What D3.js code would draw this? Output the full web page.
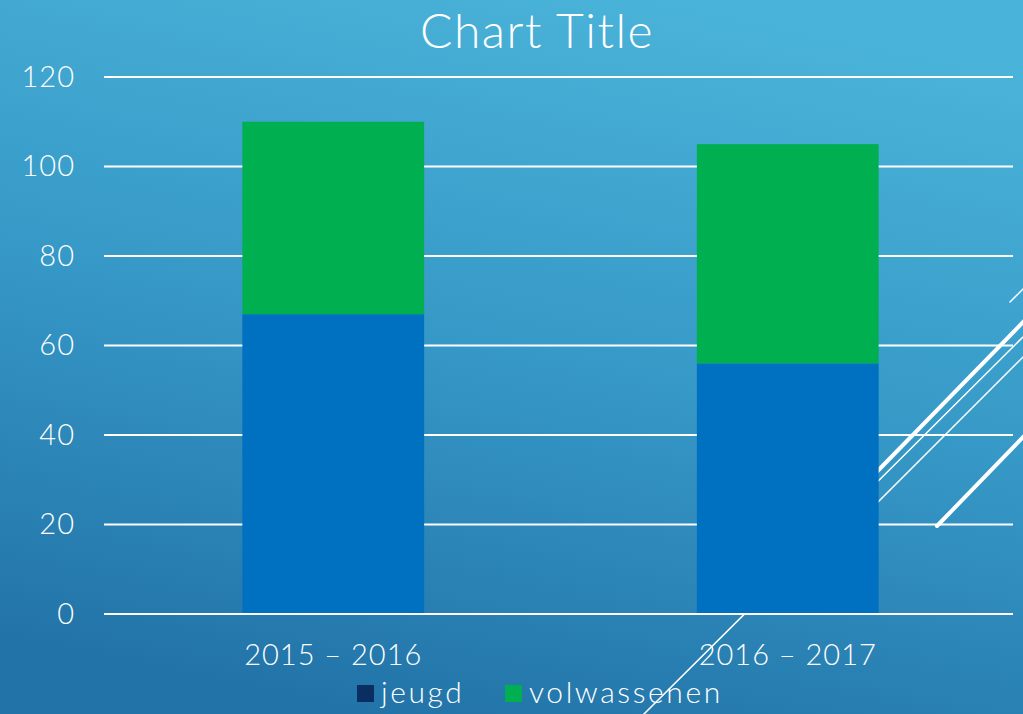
<!DOCTYPE html>
<html>
<head>
<meta charset="utf-8">
<script src="https://cdn.jsdelivr.net/npm/d3@7"></script>
<style>
  body { margin: 0; overflow: hidden; }
  svg { display: block; font-family: "Lato", "Noto Sans", sans-serif; font-weight: 300; }
</style>
</head>
<body>
<div id="chart"></div>
<script>
const categories = ["2015 – 2016", "2016 – 2017"];
const seriesNames = ["jeugd", "volwassenen"];
const jeugd = [67, 56];
const volwassenen = [43, 49];
const yTicks = [0, 20, 40, 60, 80, 100, 120];

const W = 1023, H = 714;
const margin = { top: 77, right: 10, bottom: 100, left: 104 };

const svg = d3.select("#chart").append("svg")
  .attr("width", W)
  .attr("height", H);

// slide background
const defs = svg.append("defs");
const grad = defs.append("linearGradient")
  .attr("id", "bg")
  .attr("x1", "0.35").attr("y1", "1")
  .attr("x2", "0.65").attr("y2", "0");
grad.append("stop").attr("offset", "0%").attr("stop-color", "#2273a8");
grad.append("stop").attr("offset", "50%").attr("stop-color", "#3698c6");
grad.append("stop").attr("offset", "100%").attr("stop-color", "#4ab3d9");

svg.append("rect").attr("width", W).attr("height", H).attr("fill", "url(#bg)");

// theme decoration lines (behind chart)
const deco = [
  { x1: 640, y1: 718, x2: 1030, y2: 330, w: 1.5 },
  { x1: 860, y1: 520, x2: 1030, y2: 350, w: 1.5 },
  { x1: 860, y1: 489, x2: 1030, y2: 315, w: 4 },
  { x1: 1010, y1: 302, x2: 1030, y2: 282, w: 1.5 },
  { x1: 937, y1: 526, x2: 1030, y2: 430, w: 4 }
];
svg.append("g").selectAll("line")
  .data(deco)
  .enter().append("line")
  .attr("x1", d => d.x1).attr("y1", d => d.y1)
  .attr("x2", d => d.x2).attr("y2", d => d.y2)
  .attr("stroke", "#fff")
  .attr("stroke-width", d => d.w)
  .attr("stroke-linecap", "round");

const width = W - margin.left - margin.right;
const height = H - margin.top - margin.bottom;

const g = svg.append("g")
  .attr("transform", `translate(${margin.left},${margin.top})`);

const x = d3.scaleBand()
  .domain(categories)
  .range([0, width])
  .paddingInner(0.6)
  .paddingOuter(0.3);

const y = d3.scaleLinear()
  .domain([0, 120])
  .range([height, 0]);

// gridlines
g.append("g")
  .selectAll("line")
  .data(yTicks)
  .enter().append("line")
  .attr("x1", 0)
  .attr("x2", width)
  .attr("y1", d => y(d))
  .attr("y2", d => y(d))
  .attr("stroke", "#fff")
  .attr("stroke-width", 2);

// stacked bars
const rows = categories.map((c, i) => ({ cat: c, jeugd: jeugd[i], volwassenen: volwassenen[i] }));
const stack = d3.stack().keys(seriesNames)(rows);
const colors = { jeugd: "#0070c0", volwassenen: "#00b050" };

g.selectAll(".series")
  .data(stack)
  .enter().append("g")
  .attr("class", "series")
  .attr("fill", d => colors[d.key])
  .selectAll("rect")
  .data(d => d)
  .enter().append("rect")
  .attr("x", d => x(d.data.cat) + 2)
  .attr("y", d => y(d[1]))
  .attr("width", x.bandwidth())
  .attr("height", d => y(d[0]) - y(d[1]));

// baseline over bars
g.append("line")
  .attr("x1", 0).attr("x2", width)
  .attr("y1", y(0)).attr("y2", y(0))
  .attr("stroke", "#fff")
  .attr("stroke-width", 2);

// y axis labels
const yAxis = g.append("g")
  .call(d3.axisLeft(y).tickValues(yTicks).tickSize(0).tickPadding(29));
yAxis.select(".domain").remove();
yAxis.selectAll("text")
  .style("fill", "#fff")
  .style("font-size", "29px")
  .style("letter-spacing", "1px")
  .style("font-family", "Lato, 'Noto Sans', sans-serif")
  .style("font-weight", 300);

// x axis labels
const xAxis = g.append("g")
  .attr("transform", `translate(2,${height})`)
  .call(d3.axisBottom(x).tickSize(0).tickPadding(30));
xAxis.select(".domain").remove();
xAxis.selectAll("text")
  .style("fill", "#fff")
  .style("font-size", "29px")
  .style("letter-spacing", "1px")
  .style("font-family", "Lato, 'Noto Sans', sans-serif")
  .style("font-weight", 300);

// title
svg.append("text")
  .attr("x", 537)
  .attr("y", 48)
  .attr("text-anchor", "middle")
  .style("fill", "#fff")
  .style("font-size", "48px")
  .style("letter-spacing", "1.5px")
  .text("Chart Title");

// legend
const legendItems = [
  { name: "jeugd", color: "#0b2e62", x: 357 },
  { name: "volwassenen", color: "#00b050", x: 505 }
];
const legend = svg.append("g");
legend.selectAll("rect")
  .data(legendItems)
  .enter().append("rect")
  .attr("x", d => d.x)
  .attr("y", 685)
  .attr("width", 17)
  .attr("height", 17)
  .attr("fill", d => d.color);
legend.selectAll("text")
  .data(legendItems)
  .enter().append("text")
  .attr("x", d => d.x + 24)
  .attr("y", 703)
  .style("fill", "#fff")
  .style("font-size", "30px")
  .style("letter-spacing", "2.6px")
  .text(d => d.name);
</script>
</body>
</html>
